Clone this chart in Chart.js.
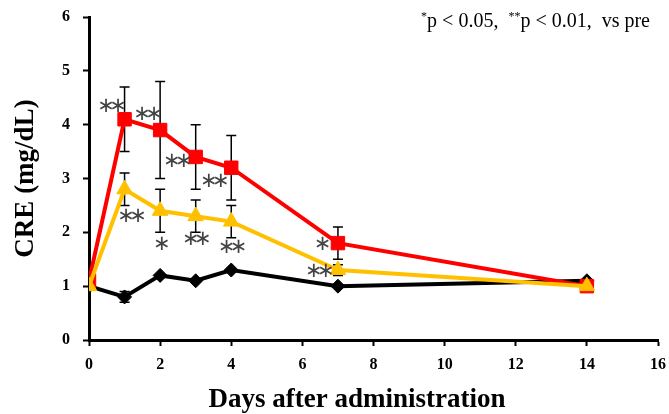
<!DOCTYPE html>
<html><head><meta charset="utf-8">
<script src="https://cdn.jsdelivr.net/npm/chart.js@4"></script>
<style>html,body{margin:0;padding:0;background:#fff}#wrap{width:669px;height:414px}</style>
</head><body><div id="wrap"><canvas id="c" width="669" height="414"></canvas></div>
<script>
const days = [0, 1, 2, 3, 4, 7, 14];
const redVals = [1.1, 4.1, 3.9, 3.4, 3.2, 1.8, 1.0];
const redErr = [0, 0.6, 0.9, 0.6, 0.6, 0.3, 0];
const yellowVals = [1.0, 2.8, 2.4, 2.3, 2.2, 1.3, 1.0];
const yellowErr = [0, 0.3, 0.4, 0.3, 0.3, 0.1, 0];
const blackVals = [1.0, 0.8, 1.2, 1.1, 1.3, 1.0, 1.1];
const blackErr = [0, 0.1, 0, 0, 0, 0, 0];
const yTicks = [0, 1, 2, 3, 4, 5, 6];
const xTicks = [0, 2, 4, 6, 8, 10, 12, 14, 16];
const sigX = [0.65, 1.66, 2.5, 3.54, 1.21, 2.05, 3.03, 4.04, 6.57, 6.49];
const sigY = [4.33, 4.18, 3.31, 2.94, 2.29, 1.77, 1.86, 1.71, 1.77, 1.27];
const sigText = ['**', '**', '**', '**', '**', '*', '**', '**', '*', '**'];

const serif = '"Liberation Serif", "Times New Roman", serif';
const pts = v => days.map((d, i) => ({x: d, y: v[i]}));

const errorBars = {
  id: 'errorBars',
  beforeDatasetsDraw(chart) {
    const ctx = chart.ctx, xs = chart.scales.x, ys = chart.scales.y;
    const sets = [[redVals, redErr], [yellowVals, yellowErr], [blackVals, blackErr]];
    ctx.save();
    ctx.strokeStyle = '#000';
    ctx.lineWidth = 1.5;
    sets.forEach(([vals, errs]) => {
      days.forEach((d, i) => {
        if (!errs[i]) return;
        const x = xs.getPixelForValue(d);
        const y1 = ys.getPixelForValue(vals[i] + errs[i]);
        const y2 = ys.getPixelForValue(vals[i] - errs[i]);
        ctx.beginPath();
        ctx.moveTo(x, y1); ctx.lineTo(x, y2);
        ctx.moveTo(x - 5, y1); ctx.lineTo(x + 5, y1);
        ctx.moveTo(x - 5, y2); ctx.lineTo(x + 5, y2);
        ctx.stroke();
      });
    });
    ctx.restore();
  }
};

const annotations = {
  id: 'annotations',
  afterDatasetsDraw(chart) {
    const ctx = chart.ctx, xs = chart.scales.x, ys = chart.scales.y;
    ctx.save();
    ctx.fillStyle = '#444';
    ctx.font = '21px "DejaVu Sans", sans-serif';
    ctx.textAlign = 'center';
    ctx.textBaseline = 'middle';
    sigX.forEach((sx, i) => {
      const x = xs.getPixelForValue(sx), y = ys.getPixelForValue(sigY[i]);
      const stars = sigText[i].split('');
      const gap = 12;
      stars.forEach((s, k) => {
        const off = (k - (stars.length - 1) / 2) * gap;
        ctx.fillText('\u2217', x + off, y);
      });
    });
    ctx.restore();
  },
  afterDraw(chart) {
    const ctx = chart.ctx;
    ctx.save();
    ctx.fillStyle = '#000';
    ctx.textBaseline = 'alphabetic';
    const parts = [['*', true], ['p < 0.05,  ', false], ['**', true], ['p < 0.01,  vs pre', false]];
    const big = '20px ' + serif, small = '12px ' + serif;
    let total = 0;
    parts.forEach(([t, sup]) => { ctx.font = sup ? small : big; total += ctx.measureText(t).width; });
    let x = 650 - total;
    parts.forEach(([t, sup]) => {
      ctx.font = sup ? small : big;
      ctx.fillText(t, x, sup ? 20 : 27);
      x += ctx.measureText(t).width;
    });
    ctx.font = 'bold 27px ' + serif;
    ctx.textAlign = 'center';
    ctx.fillText('Days after administration', 357, 407);
    ctx.restore();
  }
};

new Chart(document.getElementById('c'), {
  type: 'line',
  data: {
    datasets: [
      {label: 'Yellow', data: pts(yellowVals), borderColor: '#FFC000', backgroundColor: '#FFC000',
       borderWidth: 4, pointStyle: 'triangle', pointRadius: 9, pointBorderWidth: 1},
      {label: 'Red', data: pts(redVals), borderColor: '#FF0000', backgroundColor: '#FF0000',
       borderWidth: 4, pointStyle: 'rect', pointRadius: 9.5, pointBorderWidth: 1},
      {label: 'Black', data: pts(blackVals), borderColor: '#000', backgroundColor: '#000',
       borderWidth: 4, pointStyle: 'rectRot', pointRadius: 7, pointBorderWidth: 1}
    ]
  },
  options: {
    responsive: false,
    animation: false,
    events: [],
    layout: {padding: {top: 17, right: 11, left: 0, bottom: 0}},
    plugins: {legend: {display: false}, tooltip: {enabled: false}},
    elements: {line: {tension: 0}},
    scales: {
      x: {
        type: 'linear', min: 0, max: 16,
        afterBuildTicks: s => { s.ticks = xTicks.map(v => ({value: v})); },
        afterFit: s => { s.height = 74; s.paddingLeft = 0; s.paddingRight = 0; },
        grid: {drawOnChartArea: false, drawTicks: true, tickLength: 6, tickColor: '#000', tickWidth: 2},
        border: {display: true, color: '#000', width: 3},
        ticks: {color: '#000', padding: 9, font: {family: serif, size: 16, weight: 'bold'}, maxRotation: 0}
      },
      y: {
        min: 0, max: 6,
        afterBuildTicks: s => { s.ticks = yTicks.map(v => ({value: v})); },
        afterFit: s => { s.width = 89; s.paddingTop = 0; s.paddingBottom = 0; },
        grid: {drawOnChartArea: false, drawTicks: true, tickLength: 6, tickColor: '#000', tickWidth: 2},
        border: {display: true, color: '#000', width: 3},
        ticks: {color: '#000', padding: 13, font: {family: serif, size: 16, weight: 'bold'}},
        title: {display: true, text: 'CRE (mg/dL)', color: '#000', font: {family: serif, size: 27, weight: 'bold'}, padding: {top: 10, bottom: 0}}
      }
    }
  },
  plugins: [errorBars, annotations]
});
</script></body></html>
